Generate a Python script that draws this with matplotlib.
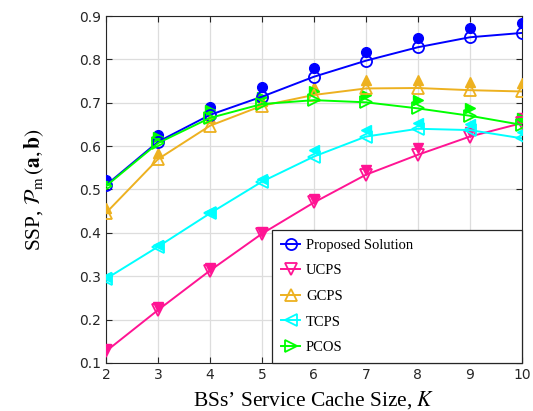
import matplotlib
matplotlib.use('Agg')
import matplotlib.pyplot as plt

plt.rcParams['mathtext.fontset'] = 'stix'

K = [2, 3, 4, 5, 6, 7, 8, 9, 10]

# analytical curves (open markers + line)
proposed = [0.510, 0.610, 0.672, 0.714, 0.760, 0.797, 0.828, 0.851, 0.861]
ucps = [0.127, 0.222, 0.313, 0.398, 0.470, 0.534, 0.580, 0.622, 0.653]
gcps = [0.446, 0.570, 0.647, 0.693, 0.718, 0.733, 0.734, 0.729, 0.726]
tcps = [0.294, 0.368, 0.445, 0.518, 0.576, 0.622, 0.640, 0.637, 0.618]
pcos = [0.508, 0.607, 0.665, 0.697, 0.706, 0.701, 0.687, 0.670, 0.649]

# simulation points (filled markers)
proposed_sim = [0.522, 0.626, 0.691, 0.736, 0.779, 0.818, 0.850, 0.872, 0.883]
ucps_sim = [0.131, 0.229, 0.319, 0.403, 0.478, 0.545, 0.595, 0.633, 0.664]
gcps_sim = [0.457, 0.584, 0.664, 0.705, 0.737, 0.752, 0.752, 0.749, 0.745]
tcps_sim = [0.297, 0.372, 0.449, 0.525, 0.591, 0.637, 0.654, 0.652, 0.633]
pcos_sim = [0.516, 0.622, 0.683, 0.714, 0.726, 0.718, 0.706, 0.687, 0.664]

names = ['Proposed Solution', 'UCPS', 'GCPS', 'TCPS', 'PCOS']
colors = ['#0000FF', '#FF1493', '#EDB120', '#00FFFF', '#00FF00']
markers = ['o', 'v', '^', '<', '>']
curves = [proposed, ucps, gcps, tcps, pcos]
sims = [proposed_sim, ucps_sim, gcps_sim, tcps_sim, pcos_sim]

fig = plt.figure(figsize=(5.33, 4.11), dpi=100)
ax = fig.add_axes([0.199, 0.117, 0.780, 0.844])

for name, c, m, y, ys in zip(names, colors, markers, curves, sims):
    ax.plot(K, ys, linestyle='none', marker=m, color=c, markersize=7, zorder=3)
    ax.plot(K, y, color=c, marker=m, markersize=8, markerfacecolor='none',
            markeredgewidth=1.3, linewidth=1.4, label=name, zorder=4)

ax.set_xlim(2, 10)
ax.set_ylim(0.1, 0.9)
ax.set_xticks(K)
ax.set_yticks([0.1, 0.2, 0.3, 0.4, 0.5, 0.6, 0.7, 0.8, 0.9])
ax.set_yticklabels(['0.1', '0.2', '0.3', '0.4', '0.5', '0.6', '0.7', '0.8', '0.9'])
ax.grid(True, color='#DDDDDD', linewidth=0.9)
ax.tick_params(direction='in', top=True, right=True, labelsize=10, colors='#262626',
               labelcolor='#262626', length=4)
for s in ax.spines.values():
    s.set_color('#262626')

ax.set_xlabel('BSs\u2019 Service Cache Size, $K$', fontsize=15.5,
              family='Liberation Serif', labelpad=5)
ax.set_ylabel(r'SSP, $\mathcal{P}_{\rm m}\,(\mathbf{a}, \mathbf{b})$', fontsize=15.5,
              family='Liberation Serif', labelpad=24)

leg = ax.legend(loc='lower left', bbox_to_anchor=(0.40, 0.0, 0.60, 0.375),
                mode='expand', fancybox=False,
                prop={'family': 'Liberation Serif', 'size': 10.5}, handlelength=1.3,
                handletextpad=0.4, labelspacing=0.85, borderpad=0.6,
                borderaxespad=0.0, edgecolor='#262626', framealpha=1)
leg.get_frame().set_linewidth(0.9)

fig.savefig('out.png', dpi=100)
